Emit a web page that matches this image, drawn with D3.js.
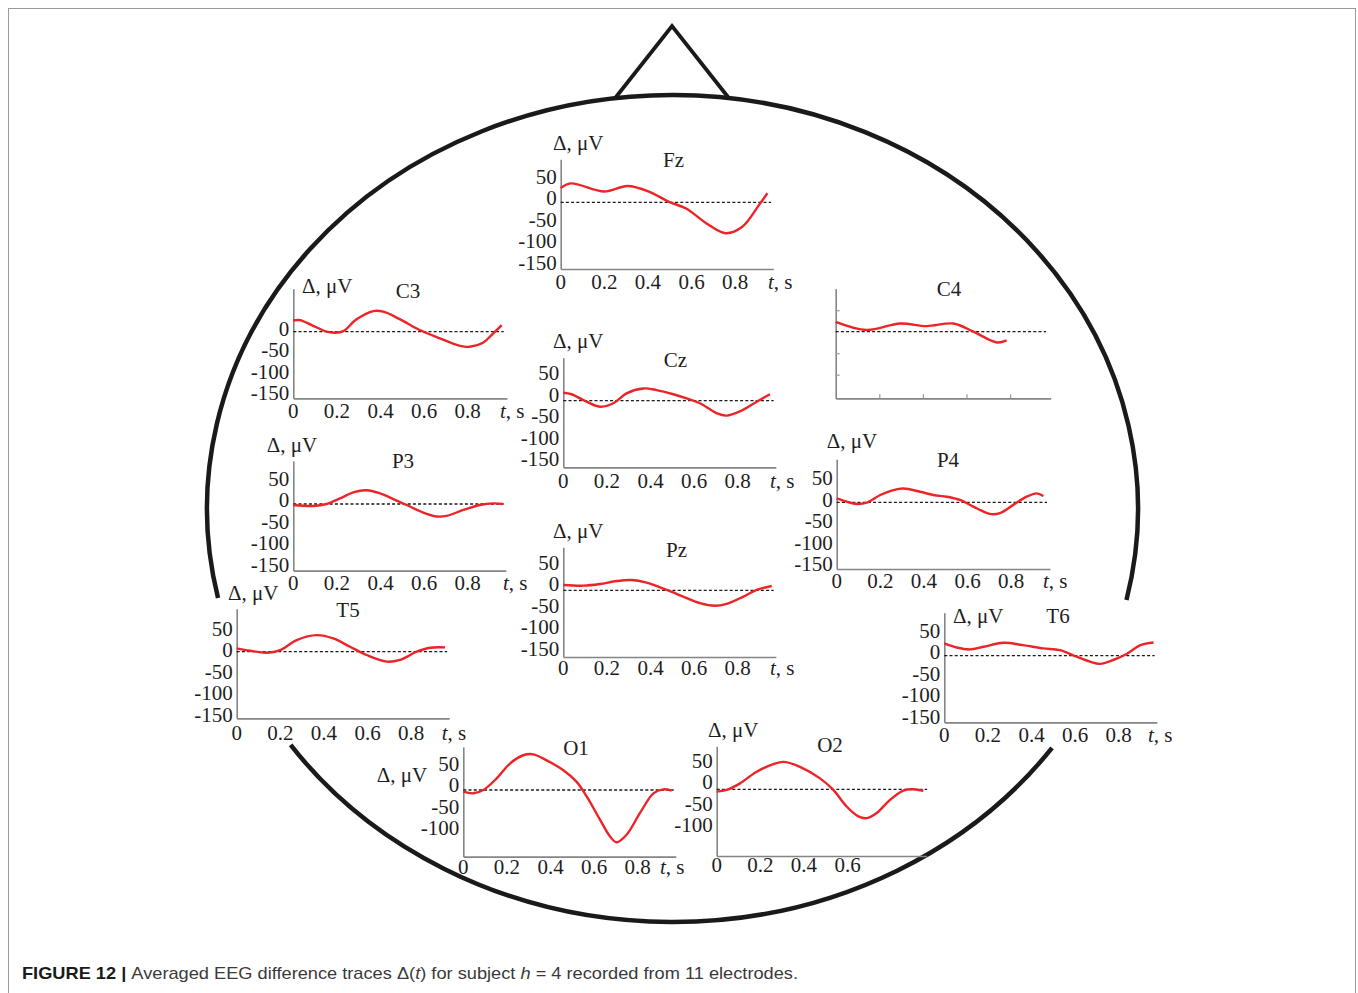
<!DOCTYPE html>
<html>
<head>
<meta charset="utf-8">
<script src="https://cdn.jsdelivr.net/npm/d3@7"></script>
<style>
  body { margin: 0; background: #fff; }
  svg { display: block; }
</style>
</head>
<body>
<svg id="fig" width="1358" height="993"></svg>
<script>
// Averaged EEG difference traces Δ(t), pairs of [time, s ; Δ, µV]
const Fz = [[0,33],[0.046,44],[0.2,25],[0.306,38],[0.405,25],[0.497,1],[0.573,-14],[0.68,-53],[0.757,-72],[0.833,-57],[0.91,-6],[0.948,21]];
const C3 = [[0,26],[0.03,27],[0.084,15.5],[0.153,0],[0.19,-2.3],[0.23,1.5],[0.29,28.7],[0.367,48],[0.413,46.5],[0.49,28.7],[0.58,3.9],[0.673,-15.5],[0.765,-33],[0.81,-35],[0.87,-25.6],[0.917,-3.9],[0.956,15.5]];
const C4 = [[0,23],[0.142,4],[0.295,19],[0.417,13],[0.54,19],[0.632,0],[0.739,-25],[0.784,-20]];
const Cz = [[0,18.5],[0.038,15],[0.092,1.5],[0.168,-14],[0.23,-6],[0.29,17],[0.367,28.5],[0.428,24.6],[0.505,15],[0.566,5.4],[0.627,-6],[0.703,-29],[0.749,-34.6],[0.81,-25],[0.887,-2.3],[0.948,15]];
const P3 = [[0,-2.3],[0.092,-4.6],[0.153,0],[0.214,13],[0.275,27],[0.336,32],[0.398,24.6],[0.459,11.5],[0.52,-2.3],[0.596,-20],[0.657,-29],[0.703,-27.7],[0.78,-13.8],[0.856,-2.3],[0.917,1.5],[0.963,0]];
const Pz = [[0,12.3],[0.092,10.8],[0.168,14.6],[0.245,21.5],[0.313,23.8],[0.382,17.7],[0.474,0.8],[0.55,-14.6],[0.627,-30],[0.696,-36],[0.749,-31.5],[0.826,-14.6],[0.887,0.8],[0.956,10]];
const P4 = [[0,9.2],[0.046,1.5],[0.092,-3.8],[0.138,-0.8],[0.2,17],[0.26,28.5],[0.306,32],[0.382,24.6],[0.443,17],[0.505,13],[0.566,5.4],[0.627,-10],[0.703,-27],[0.749,-25],[0.81,-6],[0.872,13],[0.917,20.8],[0.948,14.6]];
const T5 = [[0,7.7],[0.061,2.3],[0.138,-2.3],[0.2,3.8],[0.275,27],[0.367,38.5],[0.443,30.8],[0.52,11.5],[0.596,-7.7],[0.688,-23],[0.749,-19],[0.826,0],[0.887,9.2],[0.956,10]];
const T6 = [[0,28.5],[0.057,19],[0.118,14.6],[0.18,20.8],[0.27,30],[0.36,24.6],[0.454,17],[0.53,13],[0.607,-2.3],[0.668,-13.8],[0.714,-19],[0.775,-10],[0.836,3.8],[0.9,24.6],[0.96,30.8]];
const O1 = [[0,-3.8],[0.046,-7.7],[0.092,0],[0.153,27],[0.214,61.5],[0.275,80.8],[0.321,83],[0.382,69],[0.459,46],[0.52,19],[0.566,-15],[0.627,-69],[0.673,-108],[0.703,-121.5],[0.749,-104],[0.81,-54],[0.872,-7.7],[0.917,1.5],[0.956,-1.5]];
const O2 = [[0,-5.4],[0.046,-1.5],[0.107,13.8],[0.183,40.8],[0.26,58.5],[0.306,63.8],[0.382,52.3],[0.474,25.4],[0.535,-1.5],[0.596,-40],[0.65,-63],[0.688,-67],[0.734,-55],[0.795,-24.6],[0.856,-3],[0.902,0],[0.948,-3.8]];

// Tick labels
const yTicksFull = [50, 0, -50, -100, -150];
const yTicksNo50 = [0, -50, -100, -150];
const yTicksNo150 = [50, 0, -50, -100];
const xTicksFull = [0, 0.2, 0.4, 0.6, 0.8];
const xTicksShort = [0, 0.2, 0.4, 0.6];
const unitLabel = "Δ, μV";

// Panel placement on the scalp outline
const panels = [
  { name: "Fz", data: Fz, x0: 560.7, zeroY: 202.3, yTicks: yTicksFull, xTicks: xTicksFull, tsX: 768, shift: 4, xLabelY: 289, xEnd: 0.975, title: [673.5, 167], unit: [553, 150] },
  { name: "C3", data: C3, x0: 293.3, zeroY: 331.7, yTicks: yTicksNo50, xTicks: xTicksFull, tsX: 500, shift: 3, xLabelY: 417.5, xEnd: 0.98, title: [408, 298], unit: [302, 293] },
  { name: "C4", data: C4, x0: 835.7, zeroY: 331.7, yTicks: [], xTicks: [], tsX: null, shift: 0, xLabelY: 0, xEnd: 0.986, title: [949, 296], unit: null, marks: true },
  { name: "Cz", data: Cz, x0: 563.3, zeroY: 400.7, yTicks: yTicksFull, xTicks: xTicksFull, tsX: 770, shift: 6, xLabelY: 488, xEnd: 0.975, title: [675.5, 366.7], unit: [553, 348] },
  { name: "P3", data: P3, x0: 293.3, zeroY: 504, yTicks: yTicksFull, xTicks: xTicksFull, tsX: 503, shift: 4, xLabelY: 590, xEnd: 0.975, title: [403, 468], unit: [266.7, 451.7] },
  { name: "Pz", data: Pz, x0: 563.3, zeroY: 590.3, yTicks: yTicksFull, xTicks: xTicksFull, tsX: 770, shift: 6, xLabelY: 675, xEnd: 0.975, title: [676.5, 556.7], unit: [553, 538] },
  { name: "P4", data: P4, x0: 836.7, zeroY: 502.3, yTicks: yTicksFull, xTicks: xTicksFull, tsX: 1043, shift: 2.5, xLabelY: 587.5, xEnd: 0.978, title: [948, 466.7], unit: [826.7, 448.3] },
  { name: "T5", data: T5, x0: 236.7, zeroY: 651.7, yTicks: yTicksFull, xTicks: xTicksFull, tsX: 441.7, shift: 1.5, xLabelY: 740, xEnd: 0.975, title: [348, 616.7], unit: [228, 600] },
  { name: "T6", data: T6, x0: 944.3, zeroY: 655.7, yTicks: yTicksFull, xTicks: xTicksFull, tsX: 1148, shift: 3.5, xLabelY: 742, xEnd: 0.975, title: [1058, 623], unit: [953, 623] },
  { name: "O1", data: O1, x0: 463.3, zeroY: 790, yTicks: yTicksNo150, xTicks: xTicksFull, tsX: 660, shift: 5, xLabelY: 874, xEnd: 0.975, title: [576, 755], unit: [376.7, 781.7] },
  { name: "O2", data: O2, x0: 716.7, zeroY: 789.3, yTicks: yTicksNo150, xTicks: xTicksShort, tsX: null, shift: 7, xLabelY: 872, xEnd: 0.963, title: [830, 752], unit: [708, 736.7] }
];

const PX_PER_UV = 0.43;   // vertical scale shared by all panels
const PX_PER_S = 218;     // horizontal scale shared by all panels
const Y_MIN = -155, Y_MAX = 100;
const FONT_SIZE = 21;

const svg = d3.select("#fig");
const serif = "'Liberation Serif', 'Times New Roman', serif";

// page frame
svg.append("rect")
  .attr("x", 8.5).attr("y", 8.5).attr("width", 1347).attr("height", 1000)
  .attr("fill", "none").attr("stroke", "#9a9a9a").attr("stroke-width", 1);

// scalp outline: ellipse with openings beside T5 and T6, plus the nose
const head = { cx: 672.5, cy: 508.5, rx: 465.5, ry: 413.5 };
const pt = a => [head.cx + head.rx * Math.cos(a), head.cy + head.ry * Math.sin(a)];
function arcPath(a0, a1, large) {
  const p0 = pt(a0), p1 = pt(a1);
  return `M${p0[0]},${p0[1]} A${head.rx},${head.ry} 0 ${large} 1 ${p1[0]},${p1[1]}`;
}
const headG = svg.append("g").attr("fill", "none").attr("stroke", "#1a1a1a").attr("stroke-width", 4.5);
headG.append("path").attr("d", arcPath(0.6175, 2.5328, 0));
headG.append("path").attr("d", arcPath(2.9235, 2 * Math.PI + 0.2231, 1));
headG.append("path")
  .attr("d", "M616,97 L672,26 L728,97")
  .attr("stroke-width", 3.8).attr("stroke-linejoin", "miter");

// one small plot per electrode
panels.forEach(p => {
  const x = d3.scaleLinear().domain([0, p.xEnd]).range([p.x0, p.x0 + p.xEnd * PX_PER_S]);
  const y = d3.scaleLinear().domain([Y_MIN, Y_MAX])
    .range([p.zeroY - Y_MIN * PX_PER_UV, p.zeroY - Y_MAX * PX_PER_UV]);
  const g = svg.append("g").attr("class", "panel-" + p.name);

  const yAxis = d3.axisLeft(y).tickSizeOuter(0).tickFormat("");
  const xAxis = d3.axisBottom(x).tickSizeOuter(0).tickFormat("");
  if (p.marks) {
    yAxis.tickValues([50, -50, -100]).tickSizeInner(-4);
    xAxis.tickValues([0.2, 0.4, 0.6, 0.8]).tickSizeInner(-4);
  } else {
    yAxis.tickValues([]);
    xAxis.tickValues([]);
  }
  const gy = g.append("g").attr("transform", `translate(${p.x0},0)`).call(yAxis);
  const gx = g.append("g").attr("transform", `translate(0,${y(Y_MIN)})`).call(xAxis);
  [gy, gx].forEach(a => {
    a.select(".domain").attr("stroke", "#858585").attr("stroke-width", 1.6);
    a.selectAll(".tick line").attr("stroke", "#9a9a9a").attr("stroke-width", 1.2);
  });

  // zero reference
  g.append("line")
    .attr("x1", x(0)).attr("x2", x(0.965))
    .attr("y1", y(0)).attr("y2", y(0))
    .attr("stroke", "#1a1a1a").attr("stroke-width", 1.3)
    .attr("stroke-dasharray", "3,2.2");

  // trace
  g.append("path")
    .datum(p.data)
    .attr("fill", "none")
    .attr("stroke", "#ec2327")
    .attr("stroke-width", 2.4)
    .attr("stroke-linejoin", "round")
    .attr("d", d3.line().x(d => x(d[0])).y(d => y(d[1])).curve(d3.curveCatmullRom.alpha(0.5)));

  // y tick labels
  g.selectAll("text.yl").data(p.yTicks).join("text")
    .attr("class", "yl")
    .attr("x", p.x0 - 4)
    .attr("y", d => y(d) - p.shift + 7)
    .attr("text-anchor", "end")
    .attr("font-family", serif).attr("font-size", FONT_SIZE).attr("fill", "#1e1e1e")
    .text(d => d);

  // x tick labels
  g.selectAll("text.xl").data(p.xTicks).join("text")
    .attr("class", "xl")
    .attr("x", d => x(d))
    .attr("y", p.xLabelY)
    .attr("text-anchor", "middle")
    .attr("font-family", serif).attr("font-size", FONT_SIZE).attr("fill", "#1e1e1e")
    .text(d => d === 0 ? "0" : d3.format(".1f")(d));

  if (p.tsX !== null) {
    const ts = g.append("text")
      .attr("x", p.tsX).attr("y", p.xLabelY)
      .attr("font-family", serif).attr("font-size", FONT_SIZE).attr("fill", "#1e1e1e");
    ts.append("tspan").attr("font-style", "italic").text("t");
    ts.append("tspan").text(", s");
  }

  if (p.unit) {
    g.append("text")
      .attr("x", p.unit[0]).attr("y", p.unit[1])
      .attr("font-family", serif).attr("font-size", FONT_SIZE).attr("fill", "#1e1e1e")
      .text(unitLabel);
  }

  g.append("text")
    .attr("x", p.title[0]).attr("y", p.title[1])
    .attr("text-anchor", "middle")
    .attr("font-family", serif).attr("font-size", FONT_SIZE).attr("fill", "#1e1e1e")
    .text(p.name);
});

// caption
const cap = svg.append("text")
  .attr("x", 22).attr("y", 979)
  .attr("font-family", "'Liberation Sans', Arial, sans-serif")
  .attr("font-size", 17).attr("fill", "#3a3a3a")
  .attr("textLength", 776).attr("lengthAdjust", "spacingAndGlyphs");
cap.append("tspan").attr("font-weight", "bold").attr("fill", "#1a1a1a").text("FIGURE 12 | ");
cap.append("tspan").text("Averaged EEG difference traces Δ(");
cap.append("tspan").attr("font-style", "italic").text("t");
cap.append("tspan").text(") for subject ");
cap.append("tspan").attr("font-style", "italic").text("h");
cap.append("tspan").text(" = 4 recorded from 11 electrodes.");
</script>
</body>
</html>
